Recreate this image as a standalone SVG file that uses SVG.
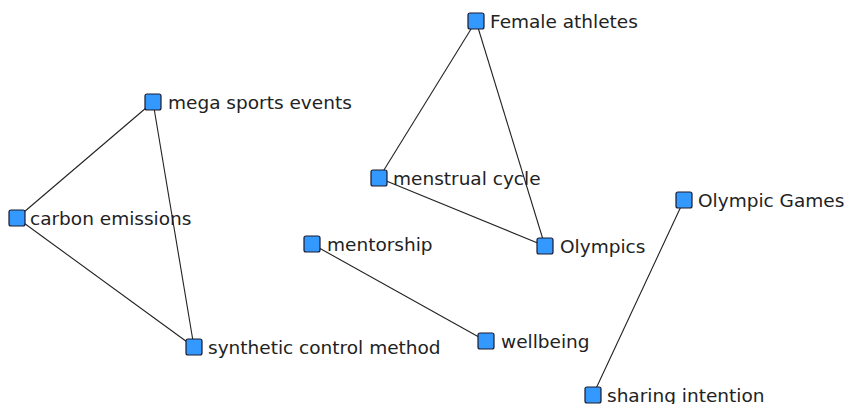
<svg xmlns="http://www.w3.org/2000/svg" width="850" height="404" viewBox="0 0 850 404">
<style>
.n rect{fill:#3399ff;stroke:#1a1a2e;stroke-width:1.2}
.n text{font-family:"DejaVu Sans",sans-serif;font-size:18.5px;fill:#222}
.e line{stroke:#222;stroke-width:1.1}
</style>
<rect width="850" height="404" fill="#fff"/>
<g class="e" id="edges">
<line x1="153" y1="102" x2="17" y2="218"/>
<line x1="153" y1="102" x2="194" y2="347"/>
<line x1="17" y1="218" x2="194" y2="347"/>
<line x1="476" y1="21" x2="379" y2="178"/>
<line x1="476" y1="21" x2="545" y2="246"/>
<line x1="379" y1="178" x2="545" y2="246"/>
<line x1="312" y1="244" x2="486" y2="341"/>
<line x1="684" y1="200" x2="593" y2="395"/>
</g>
<g class="n" id="mega"><rect x="145" y="94" width="16" height="16" rx="2"/><text x="168" y="109">mega sports events</text></g>
<g class="n" id="female"><rect x="468" y="13" width="16" height="16" rx="2"/><text x="490" y="28">Female athletes</text></g>
<g class="n" id="carbon"><rect x="9" y="210" width="16" height="16" rx="2"/><text x="30" y="225">carbon emissions</text></g>
<g class="n" id="menstrual"><rect x="371" y="170" width="16" height="16" rx="2"/><text x="393" y="185">menstrual cycle</text></g>
<g class="n" id="olympics"><rect x="537" y="238" width="16" height="16" rx="2"/><text x="560" y="253">Olympics</text></g>
<g class="n" id="mentorship"><rect x="304" y="236" width="16" height="16" rx="2"/><text x="327" y="251">mentorship</text></g>
<g class="n" id="wellbeing"><rect x="478" y="333" width="16" height="16" rx="2"/><text x="501" y="348">wellbeing</text></g>
<g class="n" id="synthetic"><rect x="186" y="339" width="16" height="16" rx="2"/><text x="208" y="354">synthetic control method</text></g>
<g class="n" id="olympicgames"><rect x="676" y="192" width="16" height="16" rx="2"/><text x="698" y="207">Olympic Games</text></g>
<g class="n" id="sharing"><rect x="585" y="387" width="16" height="16" rx="2"/><text x="607" y="402">sharing intention</text></g>
</svg>
